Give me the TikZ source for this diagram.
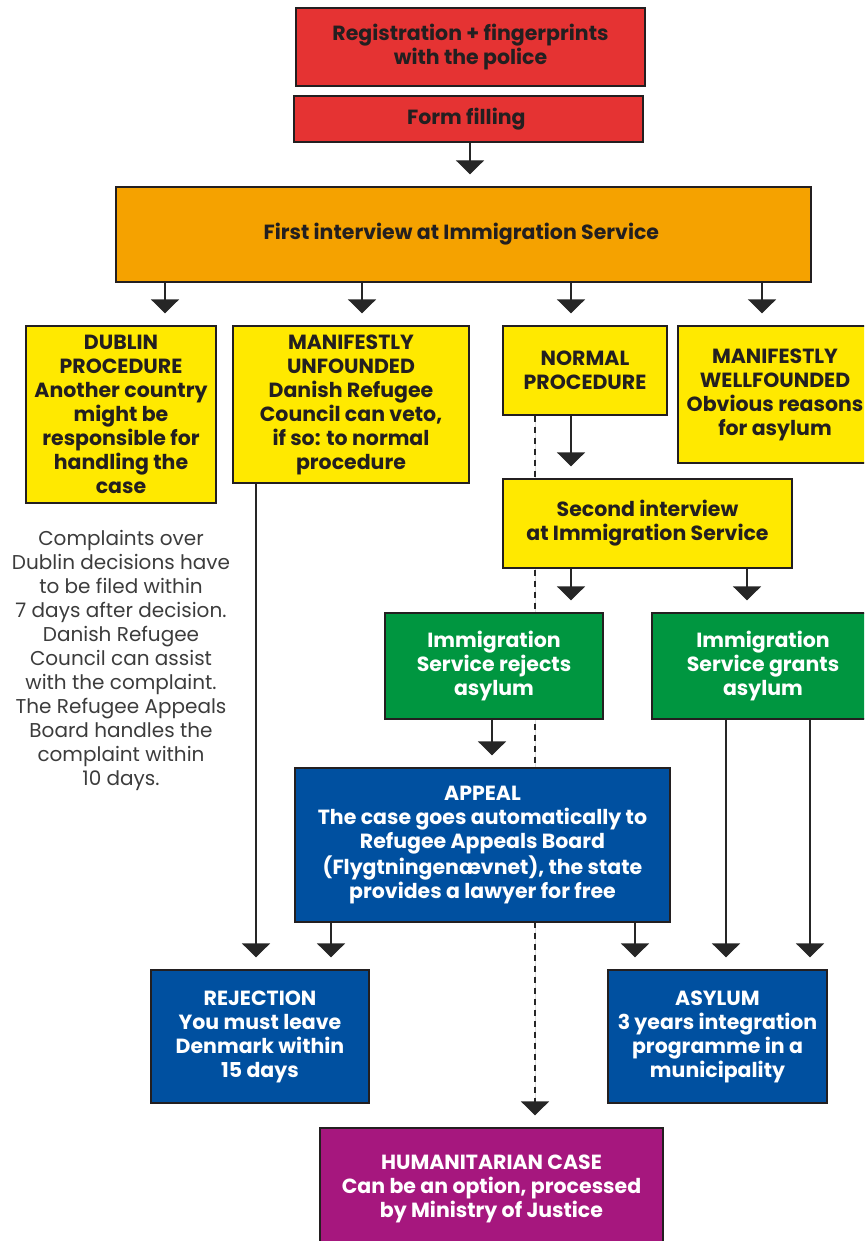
\documentclass[tikz,border=0pt]{standalone}
\usepackage{fontspec}
\setmainfont{Poppins}
\usetikzlibrary{arrows.meta,backgrounds}
\definecolor{rot}{RGB}{229,51,51}
\definecolor{orange}{RGB}{245,162,0}
\definecolor{gelb}{RGB}{255,233,0}
\definecolor{gruen}{RGB}{0,150,64}
\definecolor{blau}{RGB}{0,80,160}
\definecolor{lila}{RGB}{166,23,126}
\definecolor{rand}{RGB}{35,31,32}
\definecolor{schrift}{RGB}{35,31,32}
\definecolor{notiz}{RGB}{60,60,60}
\tikzstyle{box} = [draw=rand,line width=1.2pt,rectangle,align=center,inner sep=0pt,font=\fontsize{20.5}{24}\selectfont\bfseries]
\tikzstyle{redbox} = [box,fill=rot,text=schrift]
\tikzstyle{orangebox} = [box,fill=orange,text=schrift]
\tikzstyle{yellowbox} = [box,fill=gelb,text=schrift]
\tikzstyle{greenbox} = [box,fill=gruen,text=white]
\tikzstyle{bluebox} = [box,fill=blau,text=white]
\tikzstyle{purplebox} = [box,fill=lila,text=white]
\tikzstyle{note} = [align=center,text=notiz,font=\fontsize{20}{24}\selectfont]
\tikzstyle{edge} = [-{Triangle[width=28pt,length=14pt]},line width=1.2pt,draw=black!85,fill=black,shorten >=12pt]
\tikzstyle{maybe} = [edge,dash pattern=on 6pt off 5pt]

\begin{document}
\begin{tikzpicture}[x=1pt,y=-1pt]
\clip (0,0) rectangle (864,1241);
\useasboundingbox (0,0) rectangle (864,1241);

\node[redbox,minimum width=349pt,minimum height=78pt] (Reg) at (470.5,47) {
	Registration + fingerprints\\with the police
};
\node[redbox,minimum width=349pt,minimum height=46pt] (Form) at (468.5,119) {
	Form filling
};
\node[orangebox,minimum width=695pt,minimum height=95pt] (Interview) at (463.5,234.5) {
	First interview at Immigration Service
};

\node[yellowbox,minimum width=190pt,minimum height=177pt] (Dublin) at (121,414.5) {
	DUBLIN\\PROCEDURE\\Another country\\might be\\responsible for\\handling the\\case
};
\node[yellowbox,minimum width=236pt,minimum height=157pt] (Unfounded) at (351,404.5) {
	MANIFESTLY\\UNFOUNDED\\Danish Refugee\\Council can veto,\\if so: to normal\\procedure
};
\node[yellowbox,minimum width=164pt,minimum height=89pt] (Normal) at (585,370.5) {
	NORMAL\\PROCEDURE
};
\node[yellowbox,minimum width=194pt,minimum height=137pt] (Wellfounded) at (775,394.5) {
	MANIFESTLY\\WELLFOUNDED\\Obvious reasons\\for asylum
};

\node[note] (Complaint) at (121,660) {
	Complaints over\\Dublin decisions have\\to be filed within\\7 days after decision.\\Danish Refugee\\Council can assist\\with the complaint.\\The Refugee Appeals\\Board handles the\\complaint within\\10 days.
};

\node[yellowbox,minimum width=289pt,minimum height=89pt] (Second) at (647.5,523.5) {
	Second interview\\at Immigration Service
};
\node[greenbox,minimum width=218pt,minimum height=106pt] (Rejects) at (494,666) {
	Immigration\\Service rejects\\asylum
};
\node[greenbox,minimum width=222pt,minimum height=106pt] (Grants) at (763,666) {
	Immigration\\Service grants\\asylum
};

\node[bluebox,minimum width=375pt,minimum height=154pt] (Appeal) at (482.5,845) {
	APPEAL\\The case goes automatically to\\Refugee Appeals Board\\(Flygtningenævnet), the state\\provides a lawyer for free
};
\node[bluebox,minimum width=218pt,minimum height=133pt] (Rejection) at (260,1036.5) {
	REJECTION\\You must leave\\Denmark within\\15 days
};
\node[bluebox,minimum width=219pt,minimum height=133pt] (Asylum) at (717.5,1036.5) {
	ASYLUM\\3 years integration\\programme in a\\municipality
};
\node[purplebox,minimum width=343pt,minimum height=122pt] (Humanitarian) at (491.5,1189) {
	HUMANITARIAN CASE\\Can be an option, processed\\by Ministry of Justice
};

\coordinate (x1) at (470,0);
\coordinate (x2) at (165,0);
\coordinate (x3) at (362,0);
\coordinate (x4) at (571,0);
\coordinate (x5) at (762,0);
\coordinate (x6) at (747,0);
\coordinate (x7) at (492,0);
\coordinate (x8) at (256,0);
\coordinate (x9) at (331,0);
\coordinate (x10) at (635,0);
\coordinate (x11) at (726,0);
\coordinate (x12) at (810,0);
\coordinate (x13) at (535,0);

\begin{scope}[on background layer]
\draw[maybe] (Normal.south -| x13) -- (Humanitarian.north -| x13);
\end{scope}

\draw[edge] (Form.south -| x1) -- (Interview.north -| x1);
\draw[edge] (Interview.south -| x2) -- (Dublin.north -| x2);
\draw[edge] (Interview.south -| x3) -- (Unfounded.north -| x3);
\draw[edge] (Interview.south -| x4) -- (Normal.north -| x4);
\draw[edge] (Interview.south -| x5) -- (Wellfounded.north -| x5);
\draw[edge] (Normal.south -| x4) -- (Second.north -| x4);
\draw[edge] (Second.south -| x4) -- (Rejects.north -| x4);
\draw[edge] (Second.south -| x6) -- (Grants.north -| x6);
\draw[edge] (Rejects.south -| x7) -- (Appeal.north -| x7);
\draw[edge] (Unfounded.south -| x8) -- (Rejection.north -| x8);
\draw[edge] (Appeal.south -| x9) -- (Rejection.north -| x9);
\draw[edge] (Appeal.south -| x10) -- (Asylum.north -| x10);
\draw[edge] (Grants.south -| x11) -- (Asylum.north -| x11);
\draw[edge] (Grants.south -| x12) -- (Asylum.north -| x12);
\end{tikzpicture}
\end{document}
